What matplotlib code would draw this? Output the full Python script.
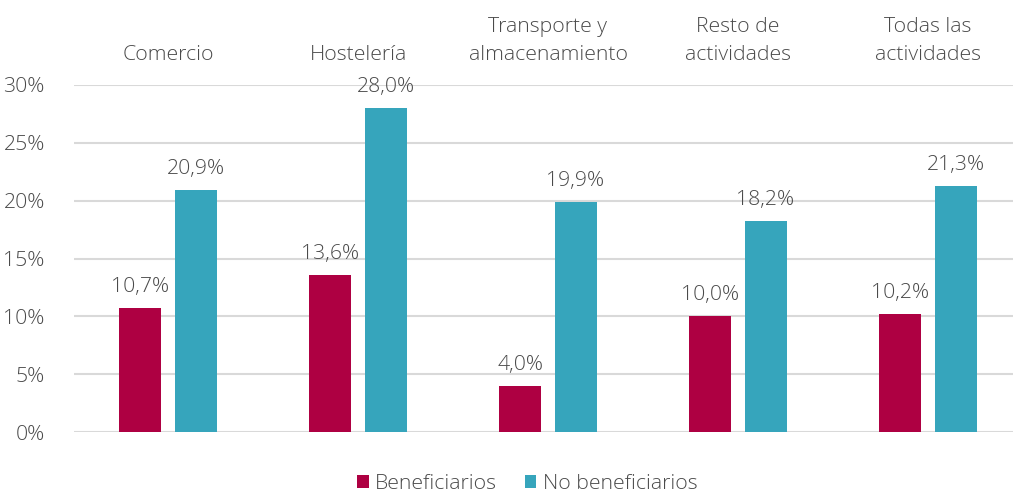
import matplotlib
matplotlib.use("Agg")
import matplotlib.pyplot as plt
import numpy as np
from matplotlib.ticker import FuncFormatter

categories = ["Comercio", "Hostelería", "Transporte y\nalmacenamiento", "Resto de\nactividades", "Todas las\nactividades"]
beneficiarios = [10.7, 13.6, 4.0, 10.0, 10.2]
no_beneficiarios = [20.9, 28.0, 19.9, 18.2, 21.3]
series_names = ["Beneficiarios", "No beneficiarios"]
yticks = [0, 5, 10, 15, 20, 25, 30]

C1 = "#AE0042"
C2 = "#36A5BC"
TXT = "#4A4A4A"
GRID = "#D9D9D9"

plt.rcParams['font.family'] = ['Open Sans', 'DejaVu Sans']
FS = 15.3

W, H = 1014, 495
fig = plt.figure(figsize=(W / 100, H / 100), dpi=100)
left, right, top, bottom = 74, 1013, 85, 432
ax = fig.add_axes([left / W, (H - bottom) / H, (right - left) / W, (bottom - top) / H])

x = np.arange(len(categories))
bw = 0.221
off = 0.145
b1 = ax.bar(x - off, beneficiarios, bw, color=C1, label=series_names[0], zorder=3)
b2 = ax.bar(x + off, no_beneficiarios, bw, color=C2, label=series_names[1], zorder=3)

ax.set_xlim((left - 168) / 190, (right - 168) / 190)
ax.set_ylim(0, 30)
ax.set_yticks(yticks)
ax.yaxis.set_major_formatter(FuncFormatter(lambda v, p: f"{int(v)}%"))
ax.grid(axis='y', color=GRID, linewidth=1.5, zorder=0)
ax.set_xticks([])
for s in ax.spines.values():
    s.set_visible(False)
ax.tick_params(axis='y', length=0, pad=21, labelsize=FS, labelcolor=TXT)
for lbl in ax.get_yticklabels():
    lbl.set_fontweight('light')

for bars, vals in ((b1, beneficiarios), (b2, no_beneficiarios)):
    for r, v in zip(bars, vals):
        ax.annotate(f"{v:.1f}%".replace(".", ","), xy=(r.get_x() + r.get_width() / 2, v),
                    xytext=(0, 11), textcoords='offset pixels', ha='center', va='bottom',
                    fontsize=FS, color=TXT, fontweight='light')

for i, c in enumerate(categories):
    ax.annotate(c, xy=(i, 1), xycoords=('data', 'axes fraction'), xytext=(0, 20),
                textcoords='offset pixels', ha='center', va='bottom', fontsize=FS,
                color=TXT, fontweight='light', linespacing=1.55)

leg = fig.legend(handles=[b1, b2], labels=series_names, loc='center', bbox_to_anchor=(527 / W, (H - 484) / H),
                 ncol=2, frameon=False, fontsize=FS, handlelength=0.55, handleheight=0.55,
                 handletextpad=0.3, columnspacing=1.3)
for t in leg.get_texts():
    t.set_color(TXT)
    t.set_fontweight('light')

fig.savefig("out.png", dpi=100)
